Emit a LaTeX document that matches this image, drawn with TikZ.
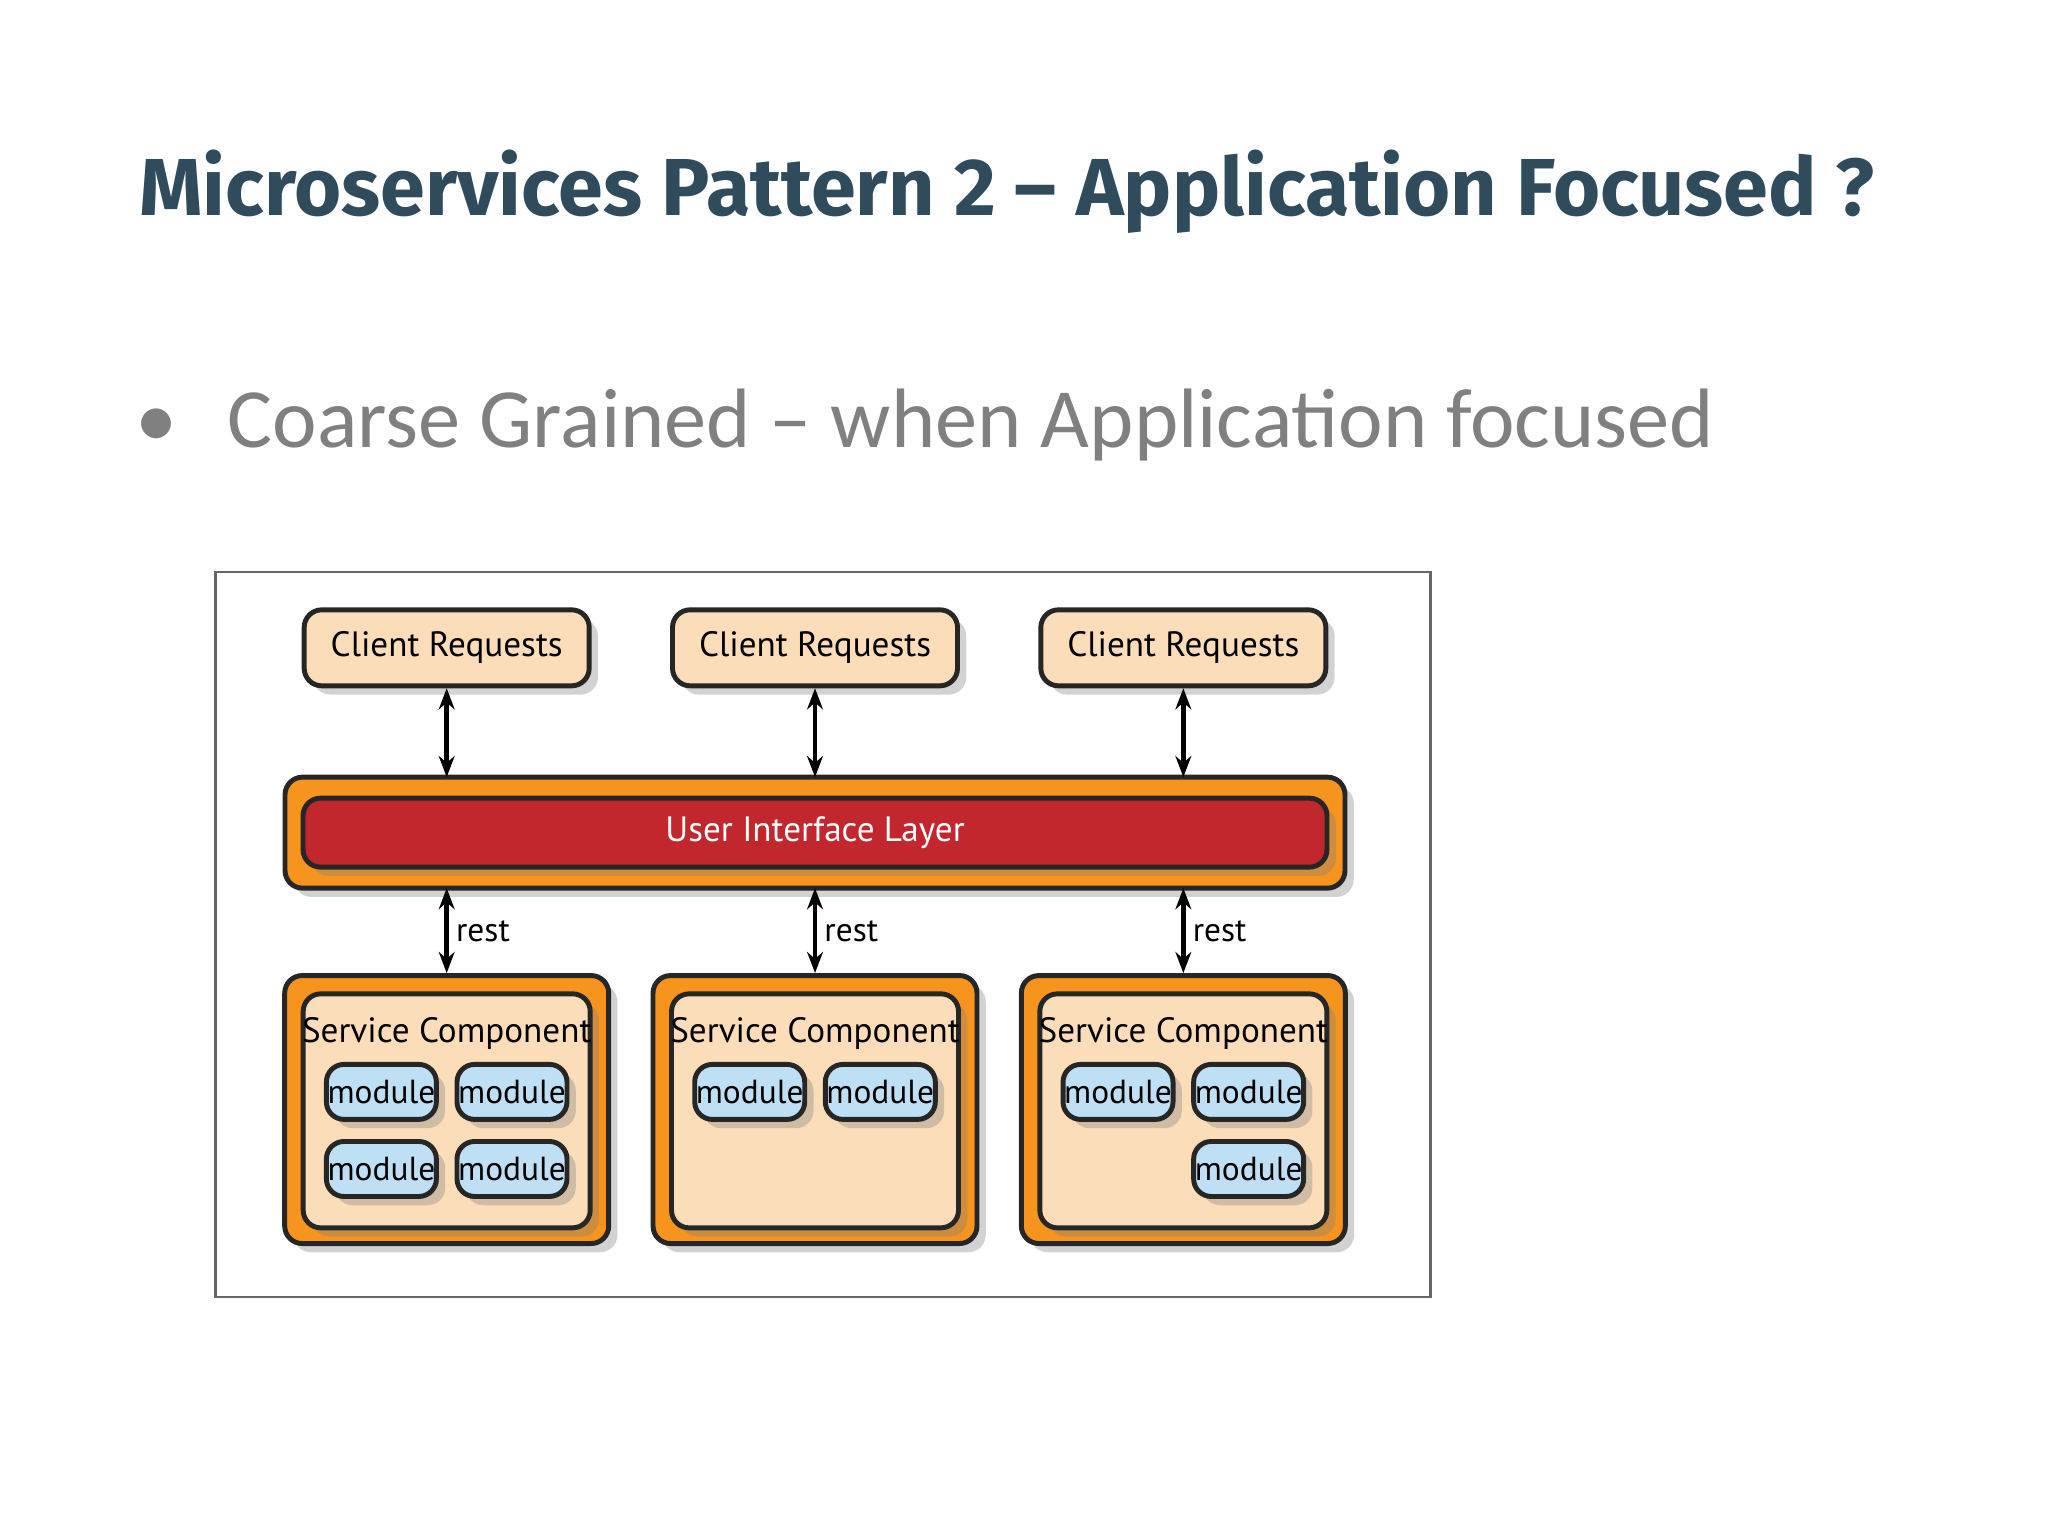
\documentclass[tikz,border=0pt]{standalone}
\usepackage{fontspec}
\setmainfont{Carlito}
\newfontfamily\titlefont{Fira Sans}
\newfontfamily\boxfont{PT Sans}
\usetikzlibrary{positioning,shadows,arrows.meta}
\definecolor{titleblue}{HTML}{2F4B5C}
\definecolor{peach}{HTML}{FCDDB9}
\definecolor{layerorange}{HTML}{F7941D}
\definecolor{layerred}{HTML}{C1272D}
\definecolor{modblue}{HTML}{BFE0F4}
\tikzset{
  box/.style={draw=black!85,line width=1.4pt,rounded corners=5pt,drop shadow={opacity=0.35,shadow xshift=2.5pt,shadow yshift=-2.5pt}},
  client/.style={box,fill=peach,minimum width=2.85cm,minimum height=0.76cm,font=\boxfont\fontsize{10}{10}\selectfont},
  outer/.style={box,fill=layerorange},
  module/.style={box,fill=modblue,minimum width=1.1cm,minimum height=0.55cm,inner sep=0pt,font=\boxfont\fontsize{9.5}{9.5}\selectfont},
  link/.style={{Stealth[length=6pt]}-{Stealth[length=6pt]},line width=1.3pt},
  lbl/.style={font=\boxfont\fontsize{9.5}{9.5}\selectfont,inner sep=1pt}
}
\begin{document}
\begin{tikzpicture}[x=0.01306cm,y=-0.01306cm]
  \useasboundingbox[fill=white] (0,0) rectangle (1568,1176);

  % Heading
  \node[anchor=base west,text=titleblue,font=\titlefont\bfseries\fontsize{23}{23}\selectfont] (title) at (97,165) {Microservices Pattern 2 – Application Focused ?};
  \node[anchor=base west,text=black!50,font=\fontsize{24}{24}\selectfont] (bullet) at (94,343) {•\hspace{0.6em}Coarse Grained – when Application focused};

  % Frame
  \draw[black!60,line width=0.8pt] (165,438) rectangle (1095,993);

  % Client requests
  \foreach \i/\x in {1/342,2/624,3/906}
    \node[client] (cr\i) at (\x,496) {Client Requests};

  % User interface layer
  \node[outer,minimum width=10.6cm,minimum height=1.11cm] (uiouter) at (624,637.5) {};
  \node[box,fill=layerred,minimum width=10.24cm,minimum height=0.69cm,text=white,font=\boxfont\fontsize{10}{10}\selectfont] (ui) at (624,637.5) {User Interface Layer};

  % Service components
  \foreach \i/\x in {1/342,2/624,3/906}
    {
      \node[outer,minimum width=3.24cm,minimum height=2.68cm] (sc\i) at (\x,849.5) {};
      \node[box,fill=peach,minimum width=2.87cm,minimum height=2.34cm] (scin\i) at (\x,850.5) {};
      \node[lbl,font=\boxfont\fontsize{10}{10}\selectfont] (sct\i) at (\x,791) {Service Component};
    }

  % Modules
  \node[module] (m11) at (292,836) {module};
  \node[module] (m12) at (392,836) {module};
  \node[module] (m13) at (292,895) {module};
  \node[module] (m14) at (392,895) {module};
  \node[module] (m21) at (574,836) {module};
  \node[module] (m22) at (674,836) {module};
  \node[module] (m31) at (856,836) {module};
  \node[module] (m32) at (956,836) {module};
  \node[module] (m33) at (956,895) {module};

  % Connectors
  \foreach \i/\x in {1/342,2/624,3/906}
    {
      \coordinate (ut\i) at (\x,595);
      \coordinate (ub\i) at (\x,680);
      \draw[link] (cr\i.south) -- (ut\i);
      \draw[link] (ub\i) -- (sc\i.north -| ub\i);
      \node[lbl,anchor=west] (rest\i) at (\x+4,713) {rest};
    }
\end{tikzpicture}
\end{document}
